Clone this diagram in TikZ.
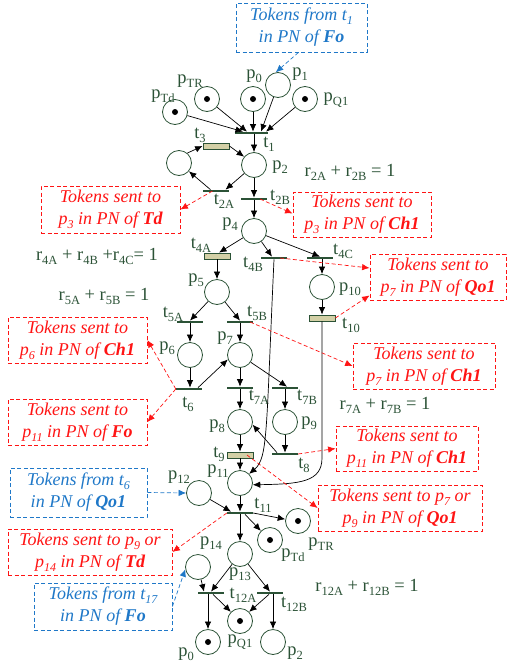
\documentclass[tikz,border=0pt]{standalone}
\usepackage{fontspec}
\setmainfont{Liberation Serif}
\usetikzlibrary{arrows.meta,calc}
\definecolor{pg}{HTML}{2B5236}
\definecolor{kh}{HTML}{D3D0A6}
\definecolor{rd}{HTML}{FF1414}
\definecolor{bl}{HTML}{1F78C8}
\newcommand\sbs[1]{\raisebox{-4pt}{\fontsize{12.5}{12.5}\selectfont #1}}
\newcommand\isb[1]{\raisebox{-4pt}{\fontsize{12}{12}\selectfont #1}}
\begin{document}
\begin{tikzpicture}[x=1pt,y=-1pt,
  place/.style={circle,draw=pg,line width=0.8pt,minimum size=25pt,inner sep=0pt},
  tok/.style={place,path picture={\fill[black] (path picture bounding box.center) circle (3pt);}},
  imm/.style={rectangle,fill=pg,minimum width=26pt,minimum height=2.3pt,inner sep=0pt},
  timed/.style={rectangle,draw=pg,fill=kh,line width=0.8pt,minimum width=26pt,minimum height=6pt,inner sep=0pt},
  lab/.style={text=pg,font=\fontsize{18.5}{18.5}\selectfont,inner sep=0pt},
  arc/.style={-{Latex[length=7.5pt,width=6.5pt]},line width=0.7pt,black},
  rbox/.style={draw=rd,dash pattern=on 4pt off 2.5pt,line width=0.8pt,text=rd,font=\fontsize{18}{22}\selectfont\itshape,align=center,inner sep=0pt},
  bbox/.style={rbox,draw=bl,text=bl},
  rarr/.style={rd,dash pattern=on 4pt off 2.5pt,line width=0.7pt,-{Latex[length=7.5pt,width=6.5pt]}},
  barr/.style={rarr,bl}]
\useasboundingbox (0,0) rectangle (510,667);

% places
\node[tok] (pTdT) at (175,112) {};
\node[tok] (pTRT) at (207,99) {};
\node[tok] (p0T) at (253,99) {};
\node[place] (p1T) at (278,85) {};
\node[tok] (pQ1T) at (305,99) {};
\node[place] (p2) at (254,165) {};
\node[place] (p3) at (179,163) {};
\node[place] (p4) at (254,231) {};
\node[place] (p5) at (217,292) {};
\node[place] (p10) at (322,287) {};
\node[place] (p6) at (190,355) {};
\node[place] (p7) at (240,355) {};
\node[place] (p8) at (240,422) {};
\node[place] (p9) at (285,422) {};
\node[place] (p11) at (240,483) {};
\node[place] (p12) at (199,493) {};
\node[tok] (pTdB) at (270,540) {};
\node[tok] (pTRB) at (298,521) {};
\node[place] (p13) at (240,554) {};
\node[place] (p14) at (198,567) {};
\node[tok] (p0B) at (208,642) {};
\node[tok] (pQ1B) at (240,621) {};
\node[place] (p2B) at (273,642) {};

% transitions
\node[imm,minimum width=33pt] (t1) at (251,133) {};
\node[timed] (t3) at (216,146) {};
\node[imm] (t2A) at (215.5,191) {};
\node[imm] (t2B) at (254,199) {};
\node[timed] (t4A) at (217,256) {};
\node[imm] (t4B) at (274,258) {};
\node[imm] (t4C) at (320,258) {};
\node[timed] (t10) at (322,318) {};
\node[imm] (t5A) at (190,322) {};
\node[imm] (t5B) at (240,322) {};
\node[imm] (t6) at (189,389) {};
\node[imm] (t7A) at (240,388) {};
\node[imm] (t7B) at (285,388) {};
\node[timed] (t9) at (240,455) {};
\node[imm] (t8) at (285,454) {};
\node[imm] (t11) at (240,513) {};
\node[imm] (t12A) at (211,593) {};
\node[imm] (t12B) at (270,593) {};

% labels
\node[lab] (lpTdT) at (163,96) {p\sbs{Td}};
\node[lab] (lpTRT) at (190,81) {p\sbs{TR}};
\node[lab] (lp0T) at (254,76) {p\sbs{0}};
\node[lab] (lp1T) at (300,74) {p\sbs{1}};
\node[lab] (lpQ1T) at (336,100) {p\sbs{Q1}};
\node[lab] (lt3) at (200,135) {t\sbs{3}};
\node[lab] (lt1) at (269,144) {t\sbs{1}};
\node[lab] (lp2) at (280,167) {p\sbs{2}};
\node[lab] (lt2A) at (224,201) {t\sbs{2A}};
\node[lab] (lt2B) at (280,197) {t\sbs{2B}};
\node[lab] (lp4) at (230,224) {p\sbs{4}};
\node[lab] (lt4A) at (201,245) {t\sbs{4A}};
\node[lab] (lt4B) at (253,264) {t\sbs{4B}};
\node[lab] (lt4C) at (343,251) {t\sbs{4C}};
\node[lab] (lp5) at (196,280) {p\sbs{5}};
\node[lab] (lp10) at (350,289) {p\sbs{10}};
\node[lab] (lt10) at (351,325) {t\sbs{10}};
\node[lab] (lt5A) at (173,314) {t\sbs{5A}};
\node[lab] (lt5B) at (257,313) {t\sbs{5B}};
\node[lab] (lp6) at (167,348) {p\sbs{6}};
\node[lab] (lp7) at (225,338) {p\sbs{7}};
\node[lab] (lt6) at (188,404) {t\sbs{6}};
\node[lab] (lt7A) at (259,397) {t\sbs{7A}};
\node[lab] (lt7B) at (307,397) {t\sbs{7B}};
\node[lab] (lp8) at (217,426) {p\sbs{8}};
\node[lab] (lp9) at (309,423) {p\sbs{9}};
\node[lab] (lt9) at (219,454) {t\sbs{9}};
\node[lab] (lt8) at (304,465) {t\sbs{8}};
\node[lab] (lp11) at (218,471) {p\sbs{11}};
\node[lab] (lt11) at (263,505) {t\sbs{11}};
\node[lab] (lp12) at (179,477) {p\sbs{12}};
\node[lab] (lpTdB) at (293,555) {p\sbs{Td}};
\node[lab] (lpTRB) at (321,544) {p\sbs{TR}};
\node[lab] (lp14) at (211,543) {p\sbs{14}};
\node[lab] (lp13) at (240,574) {p\sbs{13}};
\node[lab] (lt12A) at (243,595) {t\sbs{12A}};
\node[lab] (lt12B) at (294,604) {t\sbs{12B}};
\node[lab] (lp0B) at (186,654) {p\sbs{0}};
\node[lab] (lpQ1B) at (240,642) {p\sbs{Q1}};
\node[lab] (lp2B) at (295,653) {p\sbs{2}};

% equations
\node[lab] (e2) at (350,172) {r\sbs{2A} + r\sbs{2B} = 1};
\node[lab] (e4) at (97,256) {r\sbs{4A} + r\sbs{4B} +r\sbs{4C}= 1};
\node[lab] (e5) at (104,296) {r\sbs{5A} + r\sbs{5B} = 1};
\node[lab] (e7) at (385,405) {r\sbs{7A} + r\sbs{7B} = 1};
\node[lab] (e12) at (367,587) {r\sbs{12A} + r\sbs{12B} = 1};

% boxes
\node[rbox,minimum width=139pt,minimum height=47pt] (R1) at (110.5,209.5) {Tokens sent to\\p\isb{3} in PN of \textbf{Td}};
\node[rbox,minimum width=138pt,minimum height=45pt] (R2) at (362,214.5) {Tokens sent to\\p\isb{3} in PN of \textbf{Ch1}};
\node[rbox,minimum width=136pt,minimum height=46pt] (R3) at (438,277) {Tokens sent to\\p\isb{7} in PN of \textbf{Qo1}};
\node[rbox,minimum width=139pt,minimum height=46pt] (R4) at (77.5,340) {Tokens sent to\\p\isb{6} in PN of \textbf{Ch1}};
\node[rbox,minimum width=142pt,minimum height=46pt] (R5) at (424,366) {Tokens sent to\\p\isb{7} in PN of \textbf{Ch1}};
\node[rbox,minimum width=139pt,minimum height=46pt] (R6) at (77.5,422) {Tokens sent to\\p\isb{11} in PN of \textbf{Fo}};
\node[rbox,minimum width=142pt,minimum height=45pt] (R7) at (407,448.5) {Tokens sent to\\p\isb{11} in PN of \textbf{Ch1}};
\node[rbox,minimum width=164pt,minimum height=46pt] (R8) at (400,508) {Tokens sent to p\isb{7} or\\p\isb{9} in PN of \textbf{Qo1}};
\node[rbox,minimum width=164pt,minimum height=46pt] (R9) at (90,552) {Tokens sent to p\isb{9} or\\p\isb{14} in PN of \textbf{Td}};
\node[bbox,minimum width=131pt,minimum height=49pt] (B1) at (301.5,27.5) {Tokens from t\isb{1}\\in PN of \textbf{Fo}};
\node[bbox,minimum width=137pt,minimum height=49pt] (B2) at (78.5,492.5) {Tokens from t\isb{6}\\in PN of \textbf{Qo1}};
\node[bbox,minimum width=138pt,minimum height=47pt] (B3) at (103,606.5) {Tokens from t\isb{17}\\in PN of \textbf{Fo}};

% arcs top
\draw[arc] (pTdT) -- ([xshift=-8pt]t1.north);
\draw[arc] (pTRT) -- ([xshift=-4pt]t1.north);
\draw[arc] (p0T) -- (p0T |- t1.north);
\draw[arc] (p1T) -- ([xshift=10pt]t1.north);
\draw[arc] (pQ1T) -- ([xshift=15pt]t1.north);
\draw[arc] (t1.south -| p2) -- (p2);
\draw[arc] (p2) -- ([xshift=10pt]t2A.north);
\draw[arc] ([xshift=-5pt]t2A.north) -- (p3.-40);
\draw[arc] (p3.50) -- (t3.west);
\draw[arc] (t3.east) -- (p2.140);
\draw[arc] (p2) -- (p2 |- t2B.north);
\draw[arc] (t2B.south -| p4) -- (p4);
\draw[arc] (p4) -- ([xshift=2pt]t4A.north);
\draw[arc] (p4) -- ([xshift=-2pt]t4B.north);
\draw[arc] (p4) -- (t4C.north);
\draw[arc] (t4A.south -| p5) -- (p5);
\draw[arc] (t4C.south -| p10) -- (p10);
\draw[arc] (p10) -- (p10 |- t10.north);
\draw[arc] (p5) -- (t5A.north);
\draw[arc] (p5) -- (t5B.north);
\draw[arc] (t5A.south -| p6) -- (p6);
\draw[arc] (t5B.south -| p7) -- (p7);
\draw[arc] (p6) -- (p6 |- t6.north);
\draw[arc] ([xshift=9pt]t6.north) -- (p7.200);
\draw[arc] (p7) -- (p7 |- t7A.north);
\draw[arc] (p7) -- ([xshift=2pt]t7B.north);
\draw[arc] (t7A.south -| p8) -- (p8);
\draw[arc] (t7B.south -| p9) -- (p9);
\draw[arc] (p8) -- (p8 |- t9.north);
\draw[arc] (p9) -- (p9 |- t8.north);
\draw[arc] ([xshift=-8pt]t8.north) -- (p8.-12);
\draw[arc] (t9.south -| p11) -- (p11);
\draw[arc] (t4B.south) .. controls (266,432) and (268,458) .. (p11.45);
\coordinate (k10) at (322,458);
\draw[arc] (t10.south) -- (k10) .. controls (322,482) and (300,484) .. (p11.-8);
\draw[arc] (p11) -- (p11 |- t11.north);
\draw[arc] (p12) -- ([xshift=-9pt]t11.north);
\draw[arc] (t11.south -| p13) -- (p13);
\draw[arc] ([xshift=5pt]t11.south) -- (pTdB.135);
\draw[arc] (t11.east) -- (pTRB.172);
\draw[arc] (p14) -- ([xshift=-7pt]t12A.north);
\draw[arc] (p13) -- (t12A.north);
\draw[arc] (p13) -- (t12B.north);
\draw[arc] (t12A.south -| p0B) -- (p0B);
\draw[arc] ([xshift=2pt]t12A.south) -- (pQ1B.135);
\draw[arc] ([xshift=-1pt]t12B.south) -- (pQ1B.45);
\draw[arc] (t12B.south -| p2B) -- (p2B);

% red dashed arrows
\draw[rarr] ([xshift=-3pt]t2A.center) -- (R1.east);
\draw[rarr] ([xshift=6pt]t2B.center) -- ([yshift=1pt]R2.west);
\draw[rarr] ([xshift=6pt]t4B.center) -- ([yshift=9pt]R3.west);
\draw[rarr] (t10.east) -- ([yshift=5pt]R3.south west);
\draw[rarr] ([xshift=10pt]t5B.center) -- (R5.west);
\draw[rarr] (t6.west) -- (R4.east);
\draw[rarr] (t6.west) -- (R6.east);
\draw[rarr] (t8.east) -- (R7.west);
\draw[rarr] ([xshift=7pt]t9.center) -- (R8.west);
\draw[rarr] (t11.west) -- (R9.east);

% blue dashed arrows
\draw[barr] ([xshift=-3pt]B1.south) -- (p1T.100);
\draw[barr] (B2.east) -- (p12.west);
\draw[barr] (B3.east) -- (p14.190);
\end{tikzpicture}
\end{document}
